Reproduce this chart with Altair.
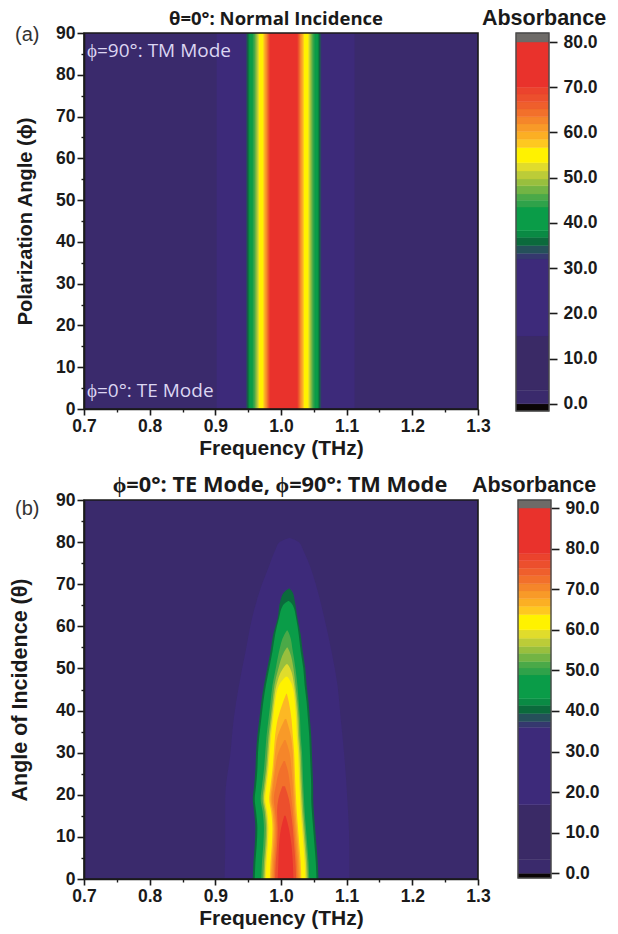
import altair as alt
import pandas as pd

# colour bar bands (shared colours, different level edges)
bar_colors = ["#0a0505", "#3a2a6c", "#3a2a66", "#3d2a7a", "#35386e", "#25505a", "#0b6a3c", "#0a8a44", "#0a9c48",
              "#2fa24a", "#4aa948", "#72b444", "#98bf3e", "#bccc38", "#e0dc2c", "#fff200", "#fec820", "#fbaf24",
              "#f89a28", "#f5862a", "#f2702b", "#ef5f2c", "#ec4f2d", "#eb432d", "#e9322c", "#6e6b68"]
edges_a = [-1.6, 0, 3, 15, 32, 33.3, 35, 36.8, 38.3, 43.5, 45, 46.4, 48.2, 49.7, 51.5, 53.3, 56.7, 58.5, 60.2,
           61.9, 63.5, 65.2, 66.8, 68.5, 70, 80, 82]
edges_b = [-1.16, 0, 3.4, 16.9, 36, 37.4, 39.4, 41.4, 43.1, 48.9, 50.6, 52.2, 54.2, 55.9, 57.9, 60, 63.8, 65.8,
           67.7, 69.6, 71.4, 73.4, 75.2, 77.1, 78.8, 90, 92]
ticks_a = [0, 10, 20, 30, 40, 50, 60, 70, 80]
ticks_b = [0, 10, 20, 30, 40, 50, 60, 70, 80, 90]

# panel (a): frequency edges of each nested colour band, same at all polarization angles
a_colors = ["#3a2a6c", "#3d2a7a", "#35386e", "#25505a", "#0b6a3c", "#0a8a44", "#0a9c48", "#2fa24a", "#4aa948",
            "#72b444", "#98bf3e", "#bccc38", "#e0dc2c", "#fff200", "#fec820", "#fbaf24", "#f89a28", "#f5862a",
            "#f2702b", "#ef5f2c", "#ec4f2d", "#eb432d", "#e9322c"]
a_left = [0.7, .902, .9465, .9475, .949, .9505, .952, .957, .959, .9605, .962, .9635, .965, .9665, .973, .9745,
          .976, .9775, .979, .980, .981, .982, .983]
a_right = [1.3, 1.112, 1.0615, 1.0605, 1.059, 1.0575, 1.056, 1.051, 1.049, 1.0475, 1.046, 1.0445, 1.043, 1.0415,
           1.035, 1.0335, 1.032, 1.0305, 1.029, 1.028, 1.027, 1.026, 1.025]

# panel (b): contour outlines, angle / left frequency / right frequency
c0_col = "#3d2a7a"
c0_ang = [0, 8, 19, 30, 38, 46, 54, 62, 70, 74, 78, 80, 81]
c0_l = [.914, .915, .915, .923, .928, .936, .946, .956, .971, .981, .991, .998, 1.012]
c0_r = [1.104, 1.104, 1.101, 1.096, 1.091, 1.086, 1.077, 1.066, 1.053, 1.045, 1.034, 1.027, 1.014]
c1_col = "#0b6a3c"
c1_ang = [0, 4, 8, 12, 16, 19, 22, 26, 30, 34, 38, 42, 46, 50, 54, 58, 62, 66, 68, 69]
c1_l = [.957, .958, .960, .961, .959, .957, .959, .961, .962, .964, .967, .970, .974, .979, .984, .988, .995, .999, 1.004, 1.012]
c1_r = [1.057, 1.056, 1.054, 1.052, 1.050, 1.049, 1.049, 1.048, 1.047, 1.046, 1.044, 1.042, 1.039, 1.037, 1.033, 1.030, 1.025, 1.021, 1.018, 1.013]
c2_col = "#0a9c48"
c2_ang = [0, 4, 8, 12, 16, 19, 22, 26, 30, 34, 38, 42, 46, 50, 54, 58, 62, 65, 66]
c2_l = [.960, .961, .963, .964, .962, .960, .962, .964, .965, .967, .970, .973, .977, .982, .987, .991, .997, 1.003, 1.011]
c2_r = [1.054, 1.053, 1.051, 1.049, 1.047, 1.046, 1.046, 1.045, 1.044, 1.043, 1.041, 1.039, 1.036, 1.034, 1.030, 1.027, 1.023, 1.018, 1.012]
c3_col = "#4aa948"
c3_ang = [0, 4, 8, 12, 16, 19, 22, 26, 30, 34, 38, 42, 46, 50, 54, 58, 59]
c3_l = [.970, .971, .973, .974, .972, .969, .971, .974, .976, .978, .981, .984, .987, .992, .997, 1.005, 1.009]
c3_r = [1.043, 1.042, 1.040, 1.038, 1.036, 1.035, 1.034, 1.033, 1.032, 1.030, 1.029, 1.027, 1.025, 1.022, 1.018, 1.013, 1.010]
c4_col = "#98bf3e"
c4_ang = [0, 4, 8, 12, 16, 19, 22, 26, 30, 34, 38, 42, 46, 50, 54, 55]
c4_l = [.973, .974, .976, .977, .975, .972, .974, .977, .979, .981, .984, .987, .990, .996, 1.005, 1.009]
c4_r = [1.041, 1.040, 1.038, 1.036, 1.034, 1.033, 1.032, 1.031, 1.030, 1.028, 1.027, 1.025, 1.022, 1.019, 1.013, 1.010]
c5_col = "#e0dc2c"
c5_ang = [0, 4, 8, 12, 16, 19, 22, 26, 30, 34, 38, 42, 46, 50, 51]
c5_l = [.975, .976, .978, .979, .977, .974, .976, .979, .981, .983, .986, .989, .993, 1.003, 1.008]
c5_r = [1.039, 1.038, 1.036, 1.034, 1.032, 1.031, 1.030, 1.029, 1.028, 1.026, 1.025, 1.023, 1.020, 1.014, 1.010]
c6_col = "#fff200"
c6_ang = [0, 4, 8, 12, 16, 19, 22, 26, 30, 34, 38, 42, 46, 48]
c6_l = [.977, .978, .980, .981, .979, .976, .978, .981, .983, .985, .988, .991, .997, 1.007]
c6_r = [1.037, 1.036, 1.034, 1.032, 1.030, 1.029, 1.028, 1.027, 1.026, 1.024, 1.023, 1.021, 1.017, 1.010]
c7_col = "#fdb824"
c7_ang = [0, 4, 8, 12, 16, 19, 22, 26, 30, 34, 38, 42, 44]
c7_l = [.983, .984, .986, .987, .985, .982, .984, .987, .989, .991, .995, 1.003, 1.008]
c7_r = [1.031, 1.030, 1.028, 1.026, 1.024, 1.023, 1.022, 1.021, 1.020, 1.018, 1.016, 1.012, 1.009]
c8_col = "#f89a28"
c8_ang = [0, 4, 8, 12, 16, 19, 22, 26, 30, 34, 38]
c8_l = [.985, .986, .988, .989, .987, .984, .986, .989, .991, .995, 1.006]
c8_r = [1.029, 1.028, 1.026, 1.024, 1.022, 1.021, 1.020, 1.019, 1.018, 1.015, 1.008]
c9_col = "#f5862a"
c9_ang = [0, 4, 8, 12, 16, 19, 22, 26, 30, 33]
c9_l = [.987, .988, .990, .991, .989, .986, .988, .991, .996, 1.005]
c9_r = [1.027, 1.026, 1.024, 1.022, 1.020, 1.019, 1.018, 1.016, 1.013, 1.007]
c10_col = "#f2702b"
c10_ang = [0, 4, 8, 12, 16, 19, 22, 26, 28]
c10_l = [.989, .990, .992, .993, .991, .989, .992, .998, 1.004]
c10_r = [1.025, 1.024, 1.022, 1.020, 1.018, 1.016, 1.014, 1.010, 1.006]
c11_col = "#ec4f2d"
c11_ang = [0, 4, 8, 12, 16, 19, 22]
c11_l = [.991, .992, .994, .995, .994, .996, 1.002]
c11_r = [1.023, 1.022, 1.020, 1.018, 1.015, 1.012, 1.006]
c12_col = "#e9322c"
c12_ang = [0, 4, 8, 12, 15]
c12_l = [.995, .996, .997, 1.000, 1.005]
c12_r = [1.019, 1.018, 1.016, 1.012, 1.007]

contours = [(c0_col, c0_ang, c0_l, c0_r), (c1_col, c1_ang, c1_l, c1_r), (c2_col, c2_ang, c2_l, c2_r),
            (c3_col, c3_ang, c3_l, c3_r), (c4_col, c4_ang, c4_l, c4_r), (c5_col, c5_ang, c5_l, c5_r),
            (c6_col, c6_ang, c6_l, c6_r), (c7_col, c7_ang, c7_l, c7_r), (c8_col, c8_ang, c8_l, c8_r),
            (c9_col, c9_ang, c9_l, c9_r), (c10_col, c10_ang, c10_l, c10_r), (c11_col, c11_ang, c11_l, c11_r),
            (c12_col, c12_ang, c12_l, c12_r)]

x_major = [0.7, 0.8, 0.9, 1.0, 1.1, 1.2, 1.3]
x_minor = [0.75, 0.85, 0.95, 1.05, 1.15, 1.25]
y_major = [0, 10, 20, 30, 40, 50, 60, 70, 80, 90]
y_minor = [5, 15, 25, 35, 45, 55, 65, 75, 85]

PW, HA, HB = 394, 376, 379
CW, CH = 33, 378
INK = "#1a1a1a"
SANS = "Liberation Sans"
OPEN = "Open Sans"

xscale = alt.Scale(domain=[0.7, 1.3], nice=False, zero=False)
yscale = alt.Scale(domain=[0, 90], nice=False, zero=False)
one = pd.DataFrame({"k": [0]})


def x_ax():
    return alt.Axis(values=x_major, format=".1f", title="Frequency (THz)", tickSize=6, tickWidth=1.6,
                    domainWidth=1.6, domainColor=INK, tickColor=INK, labelFont=SANS, labelFontWeight="bold",
                    labelFontSize=17.5, labelColor=INK, labelPadding=2, titleFont=SANS, titleFontWeight="bold",
                    titleFontSize=21, titleColor=INK, titlePadding=3, grid=False, zindex=1, orient="bottom",
                    labelFlush=False, labelOverlap=False)


def y_ax(title, pad, size):
    return alt.Axis(values=y_major, title=title, tickSize=7, tickWidth=1.6, domainWidth=1.6, domainColor=INK,
                    tickColor=INK, labelFont=SANS, labelFontWeight="bold", labelFontSize=17.5, labelColor=INK,
                    labelPadding=2, titleFont=SANS, titleFontWeight="bold", titleFontSize=size, titleColor=INK,
                    titlePadding=pad, grid=False, zindex=1, orient="left", labelOverlap=False)


def minor_layer():
    d = pd.DataFrame({"f": [0.7, 1.3], "a": [0, 90]})
    return alt.Chart(d).mark_point(opacity=0).encode(
        x=alt.X("f:Q", scale=xscale, axis=alt.Axis(values=x_minor, labels=False, title=None, tickSize=3,
                                                   tickWidth=1.4, tickColor=INK, domain=False, grid=False,
                                                   orient="bottom", zindex=1)),
        y=alt.Y("a:Q", scale=yscale, axis=alt.Axis(values=y_minor, labels=False, title=None, tickSize=3,
                                                   tickWidth=1.4, tickColor=INK, domain=False, grid=False,
                                                   orient="left", zindex=1)),
    )


def frame(x0, x1, h, color=INK, sw=1.6):
    return alt.Chart(one).mark_rect(filled=False, stroke=color, strokeWidth=sw).encode(
        x=alt.value(x0), x2=alt.value(x1), y=alt.value(0), y2=alt.value(h))


def label(text, x, y, font, size, weight="normal", color=INK, align="left"):
    return alt.Chart(one).mark_text(text=text, font=font, fontSize=size, fontWeight=weight, color=color,
                                    align=align, baseline="middle").encode(x=alt.value(x), y=alt.value(y))


def colorbar(edges, ticks, title_x, dx):
    d = pd.DataFrame({"lo": edges[:-1], "hi": edges[1:], "c": bar_colors})
    sc = alt.Scale(domain=[edges[0], edges[-1]], nice=False, zero=False)
    bars = alt.Chart(d).mark_rect(strokeWidth=0.4).encode(
        x=alt.value(dx), x2=alt.value(CW + dx),
        y=alt.Y("lo:Q", scale=sc, axis=alt.Axis(values=ticks, format=".1f", title=None, orient="right", tickSize=8,
                                                tickWidth=1.6, tickColor=INK, domain=False, grid=False,
                                                labelFont=SANS, labelFontWeight="bold", labelFontSize=17.5,
                                                labelColor=INK, labelPadding=6, labelOverlap=False, offset=dx)),
        y2="hi:Q",
        color=alt.Color("c:N", scale=None),
        stroke=alt.Color("c:N", scale=None),
    )
    return alt.layer(bars, frame(dx, CW + dx, CH, "#4a4a4a", 1.4),
                     label("Absorbance", title_x, -14, SANS, 21.5, "bold", align="center")
                     ).properties(width=CW, height=CH)


# panel a
da = pd.DataFrame({"l": a_left, "r": a_right, "c": a_colors})
bands = alt.Chart(da).mark_rect().encode(
    x=alt.X("l:Q", scale=xscale, axis=x_ax()), x2="r:Q",
    y=alt.value(0), y2=alt.value(HA),
    color=alt.Color("c:N", scale=None),
)
# y axis for panel a comes from a transparent layer
y_a = alt.Chart(pd.DataFrame({"a": [0, 90]})).mark_point(opacity=0).encode(
    y=alt.Y("a:Q", scale=yscale, axis=y_ax("Polarization Angle (ϕ)", 20, 20)))
panel_a = alt.layer(
    bands, y_a, minor_layer(), frame(0, PW, HA),
    label("ϕ=90°: TM Mode", 3, 18, OPEN, 19, color="#dcd6f2"),
    label("ϕ=0°: TE Mode", 3, 358, OPEN, 19, color="#dcd6f2"),
    label("θ=0°: Normal Incidence", 192, -14, OPEN, 18.5, "bold", align="center"),
    label("(a)", -69, 2, SANS, 20, color="#333333"),
).resolve_axis(x="independent", y="independent").properties(width=PW, height=HA)

# panel b
rows = []
for order, (col, ang, left, right) in enumerate(contours):
    for an, l, r in zip(ang, left, right):
        rows.append({"s": order, "c": col, "a": an, "l": l, "r": r})
db = pd.DataFrame(rows)
bg = alt.Chart(one).mark_rect(fill="#3a2a6c").encode(
    x=alt.value(0), x2=alt.value(PW), y=alt.value(0), y2=alt.value(HB))
shapes = [
    alt.Chart(db[db.s == i]).mark_area(orient="horizontal", interpolate="monotone", color=contours[i][0]).encode(
        x=alt.X("l:Q", scale=xscale, axis=(x_ax() if i == 0 else None)), x2="r:Q",
        y=alt.Y("a:Q", scale=yscale, axis=(y_ax("Angle of Incidence (θ)", 24, 21.5) if i == 0 else None)),
    ) for i in range(len(contours))
]
panel_b = alt.layer(
    bg, *shapes, minor_layer(), frame(0, PW, HB),
    label("ϕ=0°: TE Mode, ϕ=90°: TM Mode", 196, -15, OPEN, 21.8, "bold", align="center"),
    label("(b)", -69, 9, SANS, 20, color="#333333"),
).resolve_axis(x="independent", y="independent").properties(width=PW, height=HB)

chart = alt.concat(
    panel_a, colorbar(edges_a, ticks_a, 27, -1),
    panel_b, colorbar(edges_b, ticks_b, 17, 1),
    columns=2, spacing={"column": 39, "row": 89}, bounds="flush",
).properties(
    padding={"left": 1, "top": 0, "right": 0, "bottom": 0}
).configure_view(stroke=None)

chart.save("out.html", embed_options={"renderer": "svg", "actions": False})
